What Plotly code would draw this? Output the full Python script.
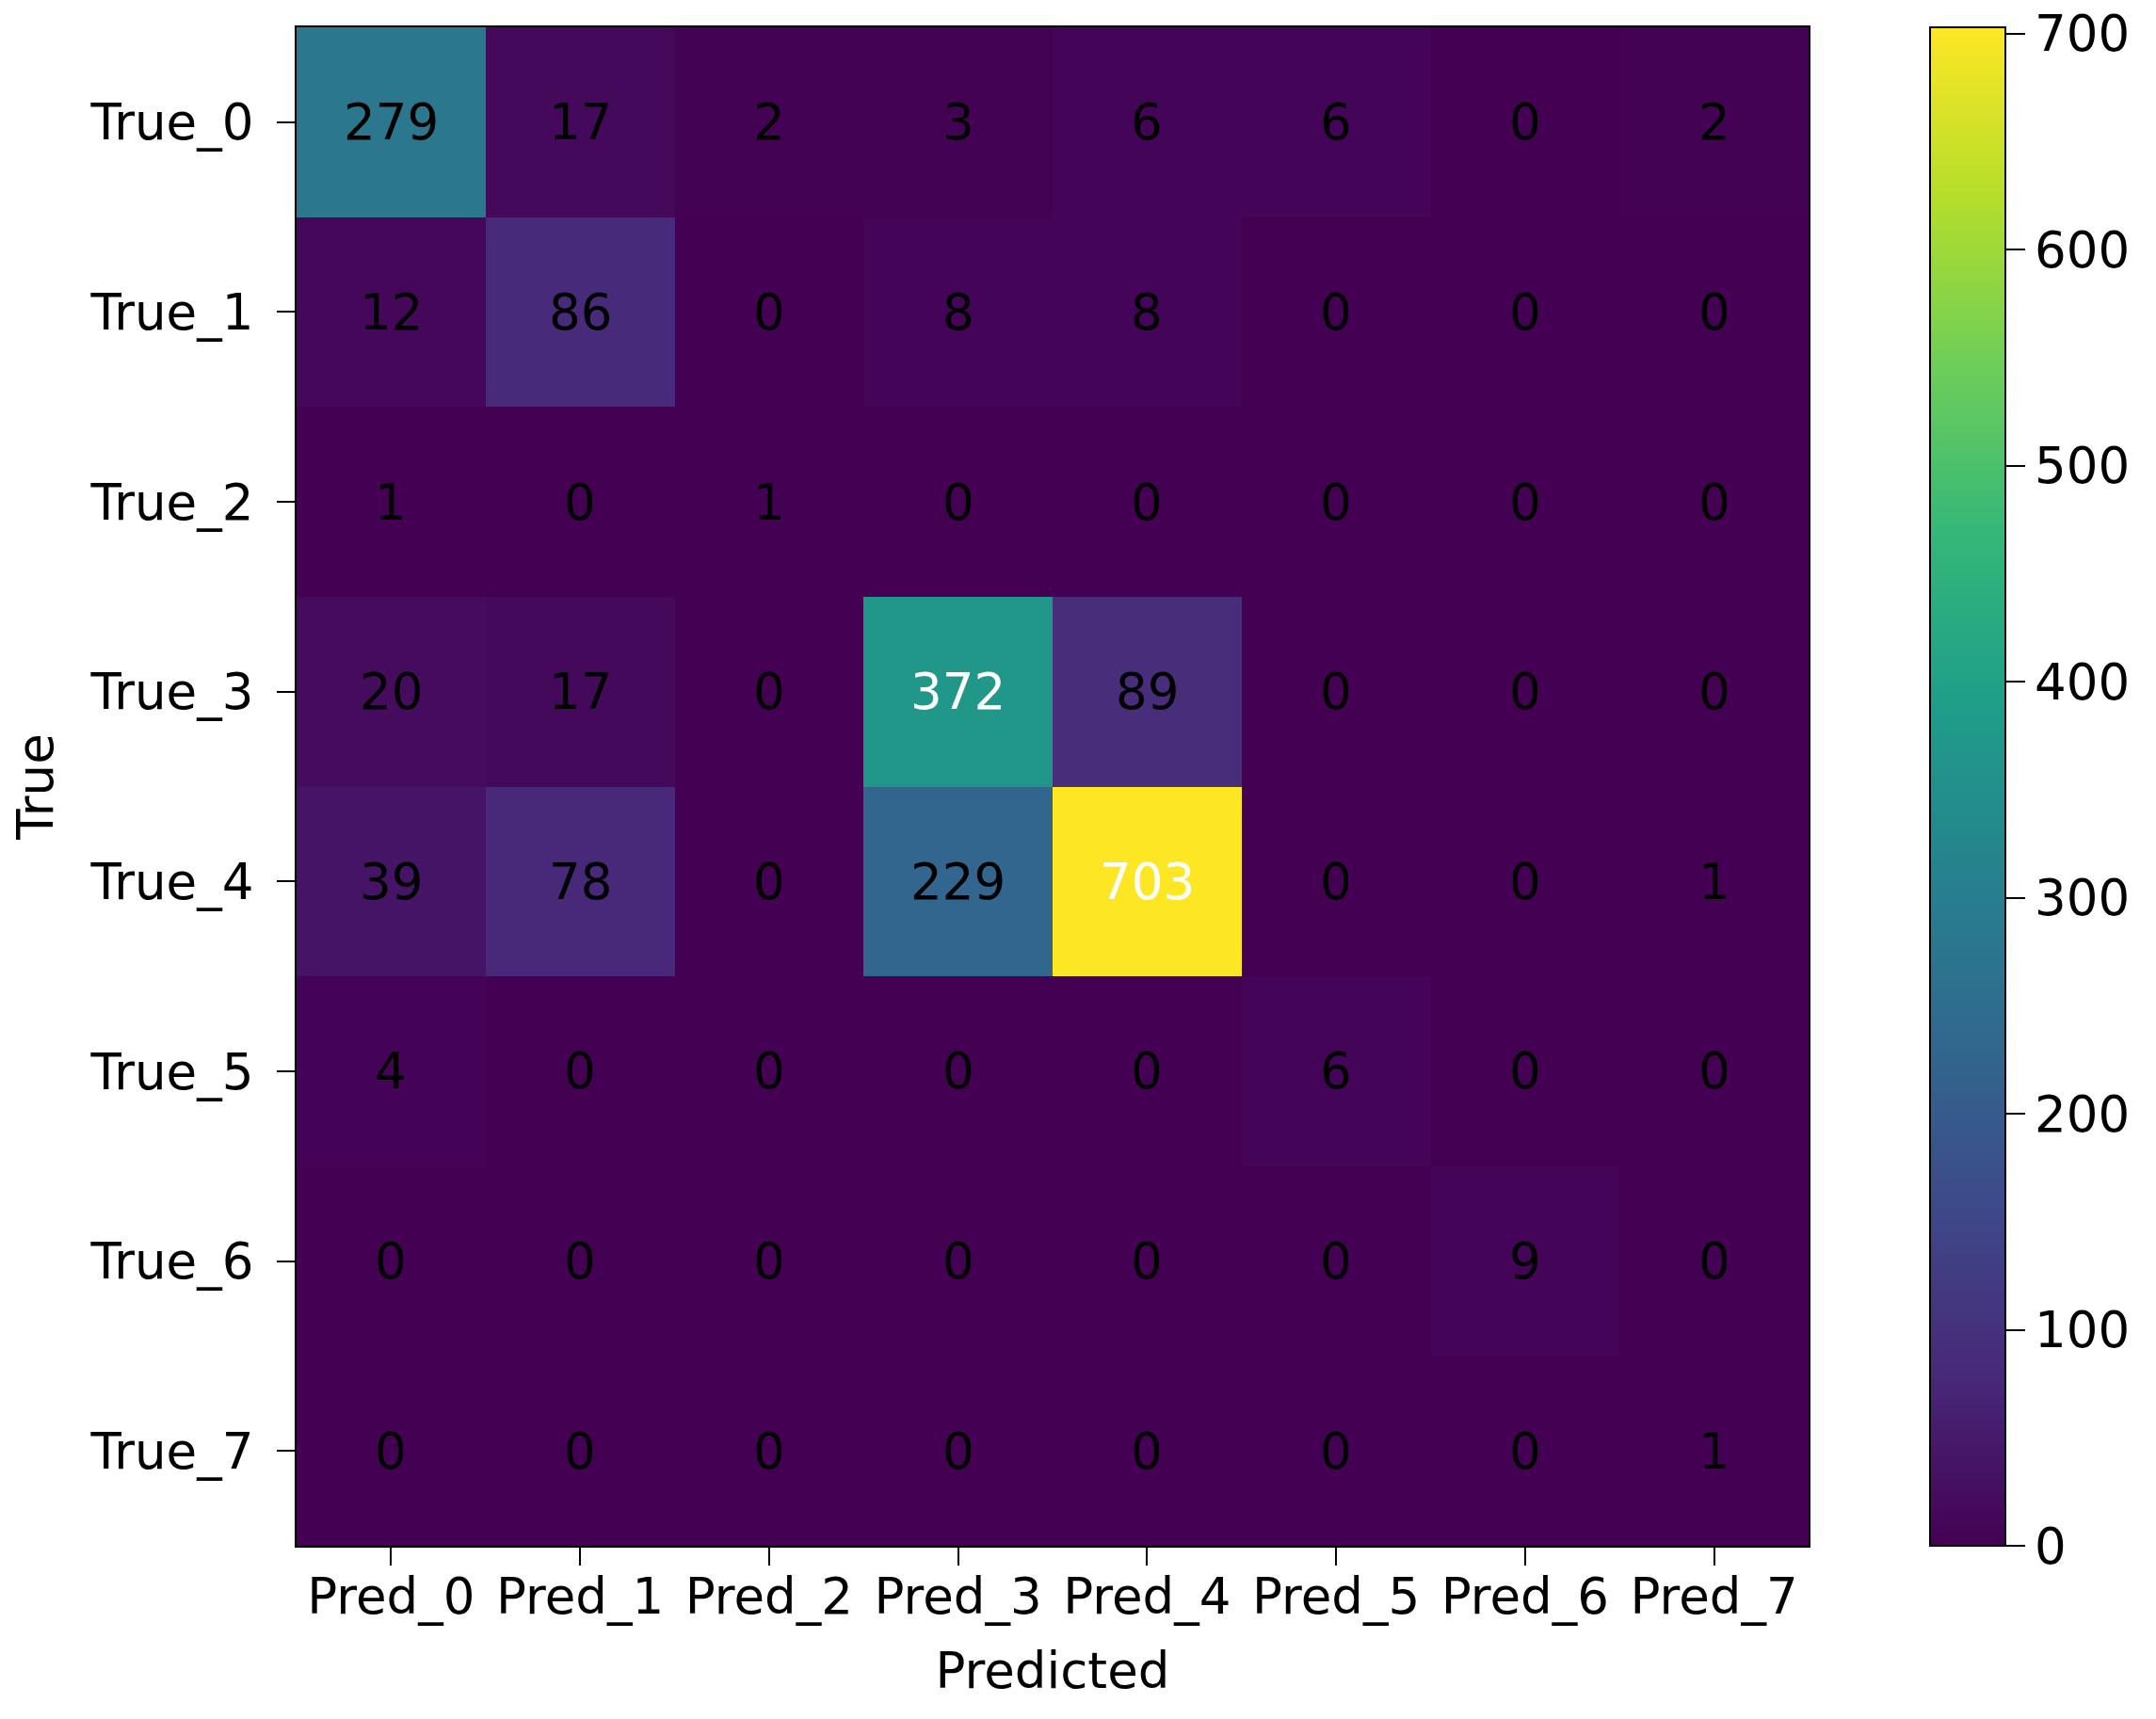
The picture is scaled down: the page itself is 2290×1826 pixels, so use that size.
import plotly.graph_objects as go

pred_labels = ["Pred_0", "Pred_1", "Pred_2", "Pred_3", "Pred_4", "Pred_5", "Pred_6", "Pred_7"]
true_labels = ["True_0", "True_1", "True_2", "True_3", "True_4", "True_5", "True_6", "True_7"]

row_true_0 = [279, 17, 2, 3, 6, 6, 0, 2]
row_true_1 = [12, 86, 0, 8, 8, 0, 0, 0]
row_true_2 = [1, 0, 1, 0, 0, 0, 0, 0]
row_true_3 = [20, 17, 0, 372, 89, 0, 0, 0]
row_true_4 = [39, 78, 0, 229, 703, 0, 0, 1]
row_true_5 = [4, 0, 0, 0, 0, 6, 0, 0]
row_true_6 = [0, 0, 0, 0, 0, 0, 9, 0]
row_true_7 = [0, 0, 0, 0, 0, 0, 0, 1]

matrix = [row_true_0, row_true_1, row_true_2, row_true_3,
          row_true_4, row_true_5, row_true_6, row_true_7]

colorbar_ticks = [0, 100, 200, 300, 400, 500, 600, 700]

FONT = "DejaVu Sans"
FS = 53

zmax = max(max(r) for r in matrix)
threshold = zmax / 2.0

fig = go.Figure()
fig.add_trace(go.Heatmap(
    z=matrix,
    x=pred_labels,
    y=true_labels,
    colorscale="Viridis",
    zmin=0,
    zmax=zmax,
    xgap=0,
    ygap=0,
    hoverinfo="skip",
    colorbar=dict(
        x=1.0803,
        xanchor="left",
        y=0.5,
        yanchor="middle",
        len=1.0,
        lenmode="fraction",
        thickness=80,
        thicknessmode="pixels",
        outlinewidth=2,
        outlinecolor="black",
        xpad=0,
        ypad=0,
        tickmode="array",
        tickvals=colorbar_ticks,
        ticks="outside",
        ticklen=20,
        tickwidth=2,
        tickcolor="black",
        tickfont=dict(family=FONT, size=FS, color="black"),
    ),
))

annotations = []
for i, row in enumerate(matrix):
    for j, v in enumerate(row):
        annotations.append(dict(
            x=pred_labels[j], y=true_labels[i], xref="x", yref="y",
            text=str(v), showarrow=False,
            font=dict(family=FONT, size=FS, color="white" if v > threshold else "black"),
        ))

fig.update_layout(
    width=2290,
    height=1826,
    margin=dict(l=315, r=369, t=29, b=184),
    paper_bgcolor="white",
    plot_bgcolor="white",
    font=dict(family=FONT, size=FS, color="black"),
    annotations=annotations,
    xaxis=dict(
        title=dict(text="Predicted", font=dict(family=FONT, size=FS), standoff=30),
        type="category",
        range=[-0.5, 7.5],
        showline=True, mirror=True, linecolor="black", linewidth=2,
        ticks="outside", ticklen=19, tickwidth=2, tickcolor="black",
        ticklabelstandoff=-13,
        tickfont=dict(family=FONT, size=FS),
        showgrid=False, zeroline=False,
    ),
    yaxis=dict(
        title=dict(text="True", font=dict(family=FONT, size=FS), standoff=22),
        type="category",
        range=[7.5, -0.5],
        showline=True, mirror=True, linecolor="black", linewidth=2,
        ticks="outside", ticklen=19, tickwidth=2, tickcolor="black",
        ticklabelstandoff=14,
        tickfont=dict(family=FONT, size=FS),
        showgrid=False, zeroline=False,
    ),
)

fig.write_html("out.html")
